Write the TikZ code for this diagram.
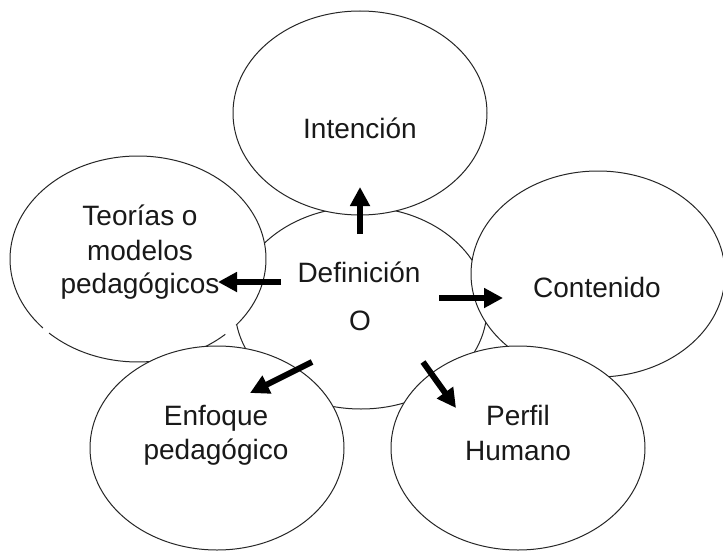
\documentclass[tikz,border=0pt]{standalone}
\usepackage{fontspec}
\setmainfont{Liberation Sans}
\usetikzlibrary{shapes.geometric,arrows.meta}
\tikzset{
  bub/.style={ellipse, draw=black!85, line width=1pt, fill=white, inner sep=0pt, minimum width=254pt, minimum height=204pt},
  bubfill/.style={ellipse, fill=white, inner sep=0pt},
  bubline/.style={draw=black!85, line width=1pt},
  lbl/.style={font=\fontsize{28}{34}\selectfont, anchor=base, inner sep=0pt, text=black!90},
  arr/.style={line width=6pt, -{Triangle[length=19pt,width=19pt]}}
}
\begin{document}
\begin{tikzpicture}[x=1pt,y=-1pt]
\useasboundingbox[fill=white] (0,0) rectangle (723,551);
% ellipses (back to front)
\node[bub, minimum width=252pt, minimum height=202pt] (def) at (361,308) {};
\node[bub] (int) at (360,113) {};
\node[bubfill, minimum width=256pt, minimum height=206pt] (teo) at (138,259) {};
\draw[bubline] (teo.center) ++(47:128 and 103) arc[start angle=47, end angle=134, x radius=128, y radius=103];
\draw[bubline] (teo.center) ++(138:128 and 103) arc[start angle=138, end angle=400, x radius=128, y radius=103];
\node[bub, minimum height=206pt] (con) at (598,274) {};
\node[bub] (enf) at (217,448) {};
\node[bub] (per) at (518,448) {};
% labels
\node[lbl] (tint) at (360,138) {Intención};
\node[lbl] (tteo1) at (140,225) {Teorías o};
\node[lbl] (tteo2) at (140,260) {modelos};
\node[lbl] (tteo3) at (140,293) {pedagógicos};
\node[lbl] (tdef1) at (359,282) {Definición};
\node[lbl] (tdef2) at (360,330) {O};
\node[lbl] (tcon) at (597,297) {Contenido};
\node[lbl] (tenf1) at (216,425) {Enfoque};
\node[lbl] (tenf2) at (216,459) {pedagógico};
\node[lbl] (tper1) at (518,425) {Perfil};
\node[lbl] (tper2) at (518,460) {Humano};
% arrow ends
\coordinate (aus) at (360,234); \coordinate (aue) at (360,187);
\coordinate (als) at (281,282); \coordinate (ale) at (218,282);
\coordinate (ars) at (439,298); \coordinate (are) at (503,298);
\coordinate (adls) at (312,362); \coordinate (adle) at (250,393);
\coordinate (adrs) at (423,362); \coordinate (adre) at (456,408);
\draw[arr] (aus) -- (aue);
\draw[arr] (als) -- (ale);
\draw[arr] (ars) -- (are);
\draw[arr] (adls) -- (adle);
\draw[arr] (adrs) -- (adre);
\end{tikzpicture}
\end{document}
